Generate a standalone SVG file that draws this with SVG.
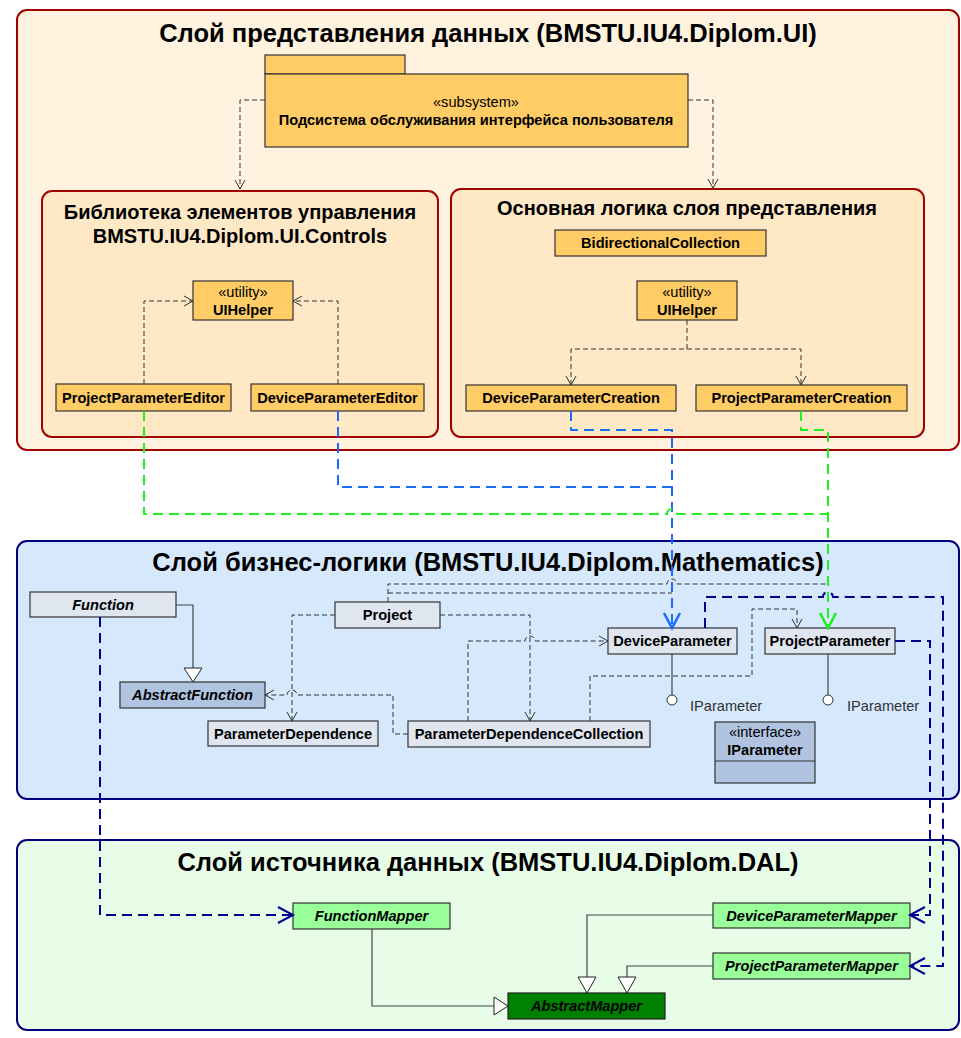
<svg xmlns="http://www.w3.org/2000/svg" width="961" height="1038" viewBox="0 0 961 1038">
<defs>
<style>
text{font-family:"Liberation Sans",Arial,sans-serif;fill:#000}
.t1{font-size:25.5px;font-weight:bold;text-anchor:middle}
.t2{font-size:20px;font-weight:bold;text-anchor:middle}
.n{font-size:14.6px;font-weight:bold;text-anchor:middle}
.ni{font-size:14.6px;font-weight:bold;font-style:italic;text-anchor:middle}
.s{font-size:14.6px;text-anchor:middle}
.lbl{font-size:14.6px;fill:#333}
.orange{fill:#ffcc66;stroke:#333;stroke-width:1.2}
.pale{fill:#dfe6f0;stroke:#333;stroke-width:1.2}
.steel{fill:#b0c4e2;stroke:#333;stroke-width:1.2}
.mint{fill:#99ff99;stroke:#333;stroke-width:1.2}
.dep{fill:none;stroke:#333;stroke-width:1;stroke-dasharray:5,3}
.blue{fill:none;stroke:#1a6cff;stroke-width:2;stroke-dasharray:10,6}
.green{fill:none;stroke:#22ee22;stroke-width:2;stroke-dasharray:10,6}
.navy{fill:none;stroke:#00008f;stroke-width:2;stroke-dasharray:10,6}
.gen{fill:none;stroke:#444;stroke-width:1.2}
.tri{fill:#fff;stroke:#222;stroke-width:1}
</style>
<marker id="aDep" markerWidth="12" markerHeight="12" refX="10" refY="6" orient="auto" markerUnits="userSpaceOnUse">
<path d="M1,1 L10,6 L1,11" fill="none" stroke="#333" stroke-width="1"/>
</marker>
<marker id="aBlue" markerWidth="20" markerHeight="20" refX="17" refY="10" orient="auto" markerUnits="userSpaceOnUse">
<path d="M2,2 L17,10 L2,18" fill="none" stroke="#1a6cff" stroke-width="2.5"/>
</marker>
<marker id="aGreen" markerWidth="20" markerHeight="20" refX="17" refY="10" orient="auto" markerUnits="userSpaceOnUse">
<path d="M2,2 L17,10 L2,18" fill="none" stroke="#22ee22" stroke-width="2.5"/>
</marker>
<marker id="aNavy" markerWidth="20" markerHeight="20" refX="17" refY="10" orient="auto" markerUnits="userSpaceOnUse">
<path d="M2,2 L17,10 L2,18" fill="none" stroke="#00008f" stroke-width="2"/>
</marker>
</defs>

<g id="layer-ui">
<rect x="17" y="10" width="942" height="440" rx="10" fill="#fff2df" stroke="#a00000" stroke-width="2"/>
<text class="t1" x="488" y="42">Слой представления данных (BMSTU.IU4.Diplom.UI)</text>
</g>
<g id="layer-math">
<rect x="17" y="541" width="942" height="258" rx="10" fill="#d5e8fc" stroke="#00007f" stroke-width="2"/>
<text class="t1" x="488" y="571">Слой бизнес-логики (BMSTU.IU4.Diplom.Mathematics)</text>
</g>
<g id="layer-dal">
<rect x="17" y="840" width="942" height="190" rx="10" fill="#e8fde8" stroke="#00007f" stroke-width="2"/>
<text class="t1" x="488" y="871">Слой источника данных (BMSTU.IU4.Diplom.DAL)</text>
</g>

<g id="pkg-controls">
<rect x="42" y="191" width="396" height="246" rx="10" fill="#fee8c6" stroke="#a00000" stroke-width="2"/>
<text class="t2" x="240" y="219">Библиотека элементов управления</text>
<text class="t2" x="240" y="243">BMSTU.IU4.Diplom.UI.Controls</text>
</g>
<g id="pkg-logic">
<rect x="451" y="189" width="473" height="248" rx="10" fill="#fee8c6" stroke="#a00000" stroke-width="2"/>
<text class="t2" x="687" y="215">Основная логика слоя представления</text>
</g>

<g id="subsystem">
<rect class="orange" x="265" y="55" width="140" height="19"/>
<rect class="orange" x="265" y="74" width="423" height="73"/>
<text class="s" x="476" y="107">«subsystem»</text>
<text class="n" x="476" y="125">Подсистема обслуживания интерфейса пользователя</text>
</g>

<g id="uihelper-controls">
<rect class="orange" x="193" y="281" width="100" height="39"/>
<text class="s" x="243" y="297">«utility»</text>
<text class="n" x="243" y="315">UIHelper</text>
</g>
<g id="project-parameter-editor">
<rect class="orange" x="56" y="384" width="175" height="27"/>
<text class="n" x="143.5" y="402.5">ProjectParameterEditor</text>
</g>
<g id="device-parameter-editor">
<rect class="orange" x="251" y="384" width="173" height="27"/>
<text class="n" x="337.5" y="402.5">DeviceParameterEditor</text>
</g>
<g id="bidirectional-collection">
<rect class="orange" x="555" y="230" width="211" height="26"/>
<text class="n" x="660.5" y="248">BidirectionalCollection</text>
</g>
<g id="uihelper-logic">
<rect class="orange" x="637" y="281" width="100" height="39"/>
<text class="s" x="687" y="297">«utility»</text>
<text class="n" x="687" y="315">UIHelper</text>
</g>
<g id="device-parameter-creation">
<rect class="orange" x="466" y="385" width="210" height="26"/>
<text class="n" x="571" y="403">DeviceParameterCreation</text>
</g>
<g id="project-parameter-creation">
<rect class="orange" x="696" y="385" width="211" height="26"/>
<text class="n" x="801.5" y="403">ProjectParameterCreation</text>
</g>

<g id="function">
<rect class="pale" x="30" y="592" width="146" height="25"/>
<text class="ni" x="103" y="609.5">Function</text>
</g>
<g id="abstract-function">
<rect class="steel" x="120" y="682" width="145" height="26"/>
<text class="ni" x="192.5" y="700">AbstractFunction</text>
</g>
<g id="project">
<rect class="pale" x="335" y="602" width="105" height="26"/>
<text class="n" x="387.5" y="620">Project</text>
</g>
<g id="parameter-dependence">
<rect class="pale" x="208" y="721" width="170" height="25"/>
<text class="n" x="293" y="738.5">ParameterDependence</text>
</g>
<g id="parameter-dependence-collection">
<rect class="pale" x="408" y="721" width="242" height="26"/>
<text class="n" x="529" y="739">ParameterDependenceCollection</text>
</g>
<g id="device-parameter">
<rect class="pale" x="608" y="628" width="129" height="26"/>
<text class="n" x="672.5" y="646">DeviceParameter</text>
</g>
<g id="project-parameter">
<rect class="pale" x="765" y="628" width="130" height="26"/>
<text class="n" x="830" y="646">ProjectParameter</text>
</g>
<g id="iparameter">
<rect class="steel" x="715" y="722" width="100" height="61"/>
<line x1="715" y1="761" x2="815" y2="761" stroke="#333" stroke-width="1.2"/>
<text class="s" x="765" y="737">«interface»</text>
<text class="n" x="765" y="755">IParameter</text>
</g>
<g id="lollipop-device">
<line x1="672" y1="654" x2="672" y2="695" stroke="#444" stroke-width="1.2"/>
<circle cx="672" cy="700" r="5" fill="#fff" stroke="#333" stroke-width="1"/>
<text class="lbl" x="690" y="711">IParameter</text>
</g>
<g id="lollipop-project">
<line x1="828" y1="654" x2="828" y2="695" stroke="#444" stroke-width="1.2"/>
<circle cx="828" cy="700" r="5" fill="#fff" stroke="#333" stroke-width="1"/>
<text class="lbl" x="847" y="711">IParameter</text>
</g>

<g id="function-mapper">
<rect class="mint" x="293" y="903" width="157" height="26"/>
<text class="ni" x="371.5" y="921">FunctionMapper</text>
</g>
<g id="device-parameter-mapper">
<rect class="mint" x="713" y="903" width="197" height="25"/>
<text class="ni" x="811.5" y="920.5">DeviceParameterMapper</text>
</g>
<g id="project-parameter-mapper">
<rect class="mint" x="713" y="953" width="197" height="26"/>
<text class="ni" x="811.5" y="971">ProjectParameterMapper</text>
</g>
<g id="abstract-mapper">
<rect x="508" y="993" width="157" height="26" fill="#008000" stroke="#222" stroke-width="1.2"/>
<text class="ni" x="586.5" y="1011">AbstractMapper</text>
</g>

<g id="connectors">
<path class="dep" d="M265 100 H240 V189" marker-end="url(#aDep)"/>
<path class="dep" d="M688 100 H713 V188" marker-end="url(#aDep)"/>
<path class="dep" d="M144 384 V301 H193" marker-end="url(#aDep)"/>
<path class="dep" d="M338 384 V301 H293" marker-end="url(#aDep)"/>
<path class="dep" d="M687 320 V349 H571 V385" marker-end="url(#aDep)"/>
<path class="dep" d="M687 349 H801 V385" marker-end="url(#aDep)"/>

<path class="dep" d="M388 602 V584 H667 a5 5 0 0 1 10 0 H828"/>
<path class="dep" d="M388 593 H672"/>

<path class="blue" d="M338 411 V487 H672"/>
<path class="blue" d="M571 411 V430 H672 V628" marker-end="url(#aBlue)"/>
<path class="green" d="M144 411 V514 H667 a5 5 0 0 1 10 0 H828"/>
<path class="green" d="M801 411 V430 H828 V628" marker-end="url(#aGreen)"/>

<path class="dep" d="M335 615 H292 V721" marker-end="url(#aDep)"/>
<path class="dep" d="M440 615 H530 V721" marker-end="url(#aDep)"/>
<path class="dep" d="M468 721 V641 H525 a5 5 0 0 1 10 0 H608" marker-end="url(#aDep)"/>
<path class="dep" d="M590 721 V676 H752 V609 H797 V628" marker-end="url(#aDep)"/>
<path class="dep" d="M408 734 H393 V695 H297 a5 5 0 0 0 -10 0 H265" marker-end="url(#aDep)"/>

<path class="gen" d="M176 605 H193 V668"/>
<path class="tri" d="M184 668 H202 L193 682 Z"/>

<path class="navy" d="M100 617 V915 H293" marker-end="url(#aNavy)"/>
<path class="navy" d="M705 628 V597 H823 a5 5 0 0 1 10 0 H943 V966 H910" marker-end="url(#aNavy)"/>
<path class="navy" d="M895 641 H930 V915 H910" marker-end="url(#aNavy)"/>

<path class="gen" d="M372 929 V1006 H494"/>
<path class="tri" d="M494 997 V1015 L508 1006 Z"/>
<path class="gen" d="M713 915 H587 V977"/>
<path class="tri" d="M578 977 H596 L587 993 Z"/>
<path class="gen" d="M713 966 H627 V977"/>
<path class="tri" d="M618 977 H636 L627 993 Z"/>
</g>
</svg>
